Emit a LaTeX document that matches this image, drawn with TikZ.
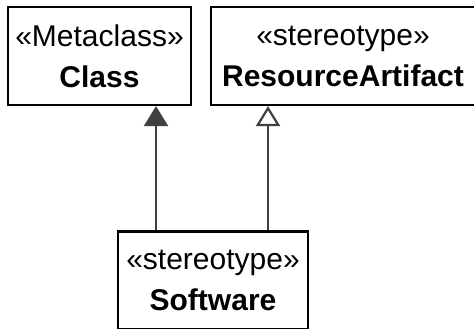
\documentclass[tikz,border=0pt]{standalone}
\usepackage{fontspec}
\setmainfont{Liberation Sans}
\usetikzlibrary{arrows.meta}

\definecolor{linegray}{HTML}{404040}

\begin{document}
\begin{tikzpicture}[x=0.5pt,y=-0.5pt,
    umlbox/.style={draw,line width=1.1pt,rectangle,align=center,inner sep=0pt,
        minimum height=49pt,font=\fontsize{15}{20.5}\selectfont},
    extends/.style={draw=linegray,line width=1.1pt,
        -{Triangle[width=12pt,length=10pt,fill=linegray]}},
    generalizes/.style={draw=linegray,line width=1.1pt,
        -{Triangle[open,width=12pt,length=10pt,fill=white]}}]

\useasboundingbox (0,0) rectangle (474,328);

\node[umlbox,minimum width=91.5pt] (metaclass) at (99.5,56)
    {«Metaclass»\\ \textbf{Class}};
\node[umlbox,minimum width=132pt] (resource) at (343,56)
    {«stereotype»\\ \textbf{ResourceArtifact}};
\node[umlbox,minimum width=95pt] (software) at (213,280.5)
    {«stereotype»\\ \textbf{Software}};

\coordinate (leftline) at (156,0);
\coordinate (rightline) at (268,0);

\draw[extends] (software.north -| leftline) -- (metaclass.south -| leftline);
\draw[generalizes] (software.north -| rightline) -- (resource.south -| rightline);

\end{tikzpicture}
\end{document}
